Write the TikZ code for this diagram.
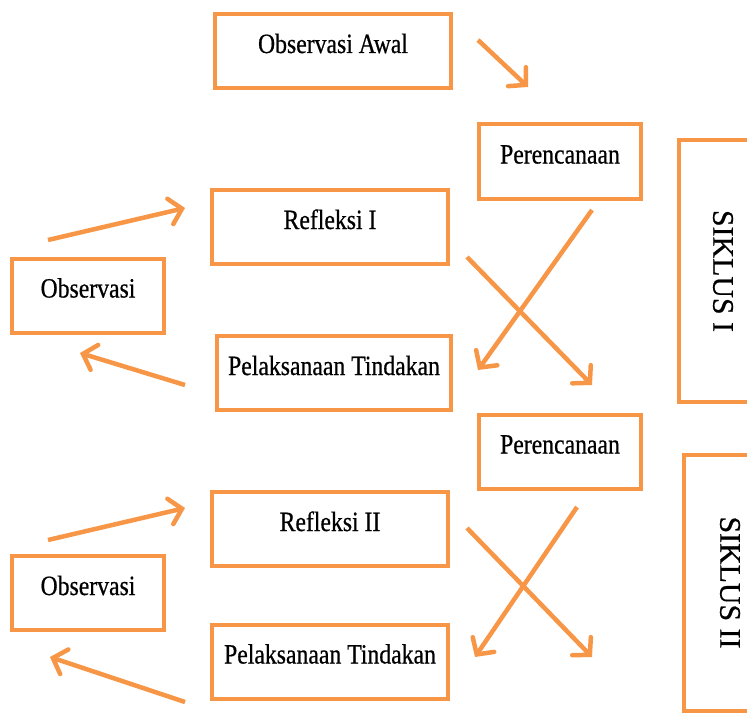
\documentclass[tikz,border=0pt]{standalone}
\usepackage{fontspec}
\setmainfont{Liberation Serif}[FakeStretch=0.85,FakeBold=0.6]
\newfontfamily\wideserif{Liberation Serif}[FakeBold=0.6]
\usepackage{tikz}
\usetikzlibrary{arrows.meta}
\usetikzlibrary{positioning}
\definecolor{orng}{HTML}{F79646}

\begin{document}
\begin{tikzpicture}[x=1bp,y=-1bp]
		\path[use as bounding box,clip] (0,0) rectangle (747,714);

		\begin{scope}[every node/.style={rectangle,draw=orng,line width=4bp,inner xsep=0pt,inner ysep=0pt,
				text height=39bp,text depth=35bp,font=\fontsize{28}{30}\selectfont}]
			\node[minimum width=236bp] (awal) at (333,51) {Observasi Awal};
			\node[minimum width=162bp] (rca) at (560,161.5) {Perencanaan};
			\node[minimum width=236bp] (rfa) at (330,227) {Refleksi I};
			\node[minimum width=152bp] (oba) at (88,295.5) {Observasi};
			\node[minimum width=234bp] (pla) at (334,373) {Pelaksanaan Tindakan};

			\node[minimum width=162bp] (rcb) at (560,451.5) {Perencanaan};
			\node[minimum width=236bp] (rfb) at (330,529) {Refleksi II};
			\node[minimum width=152bp] (obb) at (88,593) {Observasi};
			\node[minimum width=236bp] (plb) at (330,661.5) {Pelaksanaan Tindakan};
		\end{scope}

		\begin{scope}[every node/.style={rectangle,draw=orng,line width=4bp,rotate=-90,
				font=\wideserif\fontsize{30}{32}\selectfont}]
			\node[minimum width=261bp,minimum height=89bp] (ska) at (723,271) {SIKLUS I};
			\node[minimum width=256bp,minimum height=93bp] (skb) at (730,582.5) {SIKLUS II};
		\end{scope}

		% free ends of the arrows
		\coordinate (a0) at (478,40);  \coordinate (a1) at (528,87);
		\coordinate (b0) at (48,240);  \coordinate (b1) at (185,208);
		\coordinate (c0) at (185,385); \coordinate (c1) at (80,353);
		\coordinate (d0) at (592,210); \coordinate (d1) at (478,370);
		\coordinate (e0) at (467,257); \coordinate (e1) at (592,385);
		\coordinate (f0) at (577,507); \coordinate (f1) at (475,657);
		\coordinate (g0) at (467,528); \coordinate (g1) at (592,657);
		\coordinate (h0) at (48,540);  \coordinate (h1) at (185,508);
		\coordinate (i0) at (185,702); \coordinate (i1) at (50,657);

		\begin{scope}[>={Straight Barb[length=12bp,width=26bp,line cap=round]},
				every edge/.style={draw=orng,line width=4.5bp,->}]
			\path (a0) edge (a1);
			\path (b0) edge (b1);
			\path (c0) edge (c1);
			\path (d0) edge (d1);
			\path (e0) edge (e1);

			\path (f0) edge (f1);
			\path (g0) edge (g1);
			\path (h0) edge (h1);
			\path (i0) edge (i1);
		\end{scope}
	\end{tikzpicture}
\end{document}
